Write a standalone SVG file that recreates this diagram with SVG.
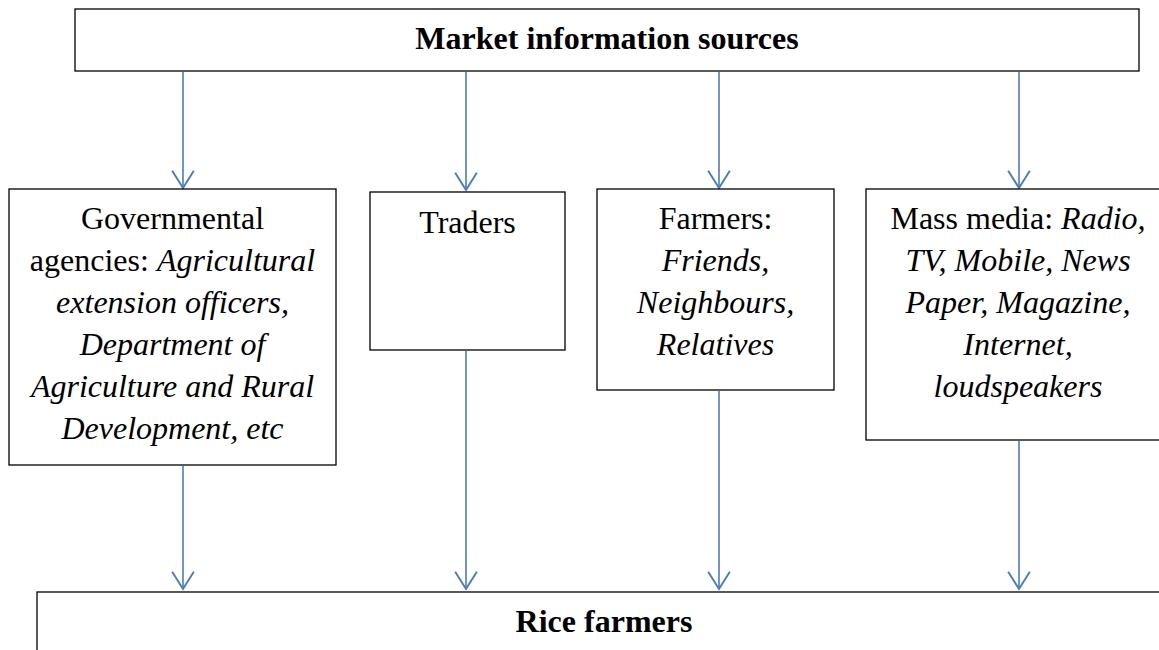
<svg xmlns="http://www.w3.org/2000/svg" width="1159" height="650" viewBox="0 0 1159 650">
<style>
.box{fill:#fff;stroke:#000;stroke-width:1.3}
.t{font-family:"Liberation Serif","Times New Roman",serif;font-size:32px;fill:#000;text-anchor:middle}
.b{font-weight:bold}
.i{font-style:italic}
.c{fill:none;stroke:#4A7EBB;stroke-width:1.6}
</style>
<defs>
<marker id="ah" markerUnits="userSpaceOnUse" markerWidth="24" markerHeight="26" refX="0" refY="0" viewBox="-18 -12 20 24" orient="auto">
<path d="M-16,-10 L0,0 L-16,10" fill="none" stroke="#4A7EBB" stroke-width="1.8"/>
</marker>
</defs>
<rect width="1159" height="650" fill="#fff"/>
<g id="connectors">
<line class="c" x1="183" y1="72" x2="183" y2="188" marker-end="url(#ah)"/>
<line class="c" x1="466" y1="72" x2="466" y2="190" marker-end="url(#ah)"/>
<line class="c" x1="719" y1="72" x2="719" y2="188" marker-end="url(#ah)"/>
<line class="c" x1="1019" y1="72" x2="1019" y2="188" marker-end="url(#ah)"/>
<line class="c" x1="183" y1="466" x2="183" y2="589" marker-end="url(#ah)"/>
<line class="c" x1="466" y1="351" x2="466" y2="589" marker-end="url(#ah)"/>
<line class="c" x1="719" y1="391" x2="719" y2="589" marker-end="url(#ah)"/>
<line class="c" x1="1019" y1="441" x2="1019" y2="589" marker-end="url(#ah)"/>
</g>
<g id="sources">
<rect class="box" x="75" y="9" width="1064" height="62"/>
<text class="t b" x="607" y="49">Market information sources</text>
</g>
<g id="gov">
<rect class="box" x="9" y="189" width="327" height="276"/>
<text class="t" x="172.5" y="229">Governmental</text>
<text class="t" x="172.5" y="271">agencies: <tspan class="i">Agricultural</tspan></text>
<text class="t i" x="172.5" y="313">extension officers,</text>
<text class="t i" x="172.5" y="355">Department of</text>
<text class="t i" x="172.5" y="397">Agriculture and Rural</text>
<text class="t i" x="172.5" y="439">Development, etc</text>
</g>
<g id="traders">
<rect class="box" x="370" y="192" width="195" height="158"/>
<text class="t" x="467.5" y="233">Traders</text>
</g>
<g id="farmers">
<rect class="box" x="597" y="189" width="237" height="201"/>
<text class="t" x="715.5" y="229">Farmers:</text>
<text class="t i" x="715.5" y="271">Friends,</text>
<text class="t i" x="715.5" y="313">Neighbours,</text>
<text class="t i" x="715.5" y="355">Relatives</text>
</g>
<g id="media">
<rect class="box" x="866" y="189" width="306" height="251"/>
<text class="t" x="1018" y="229">Mass media: <tspan class="i">Radio,</tspan></text>
<text class="t i" x="1018" y="271">TV, Mobile, News</text>
<text class="t i" x="1018" y="313">Paper, Magazine,</text>
<text class="t i" x="1018" y="355">Internet,</text>
<text class="t i" x="1018" y="397">loudspeakers</text>
</g>
<g id="rice">
<rect class="box" x="37" y="592" width="1134" height="80"/>
<text class="t b" x="604" y="632">Rice farmers</text>
</g>
</svg>
